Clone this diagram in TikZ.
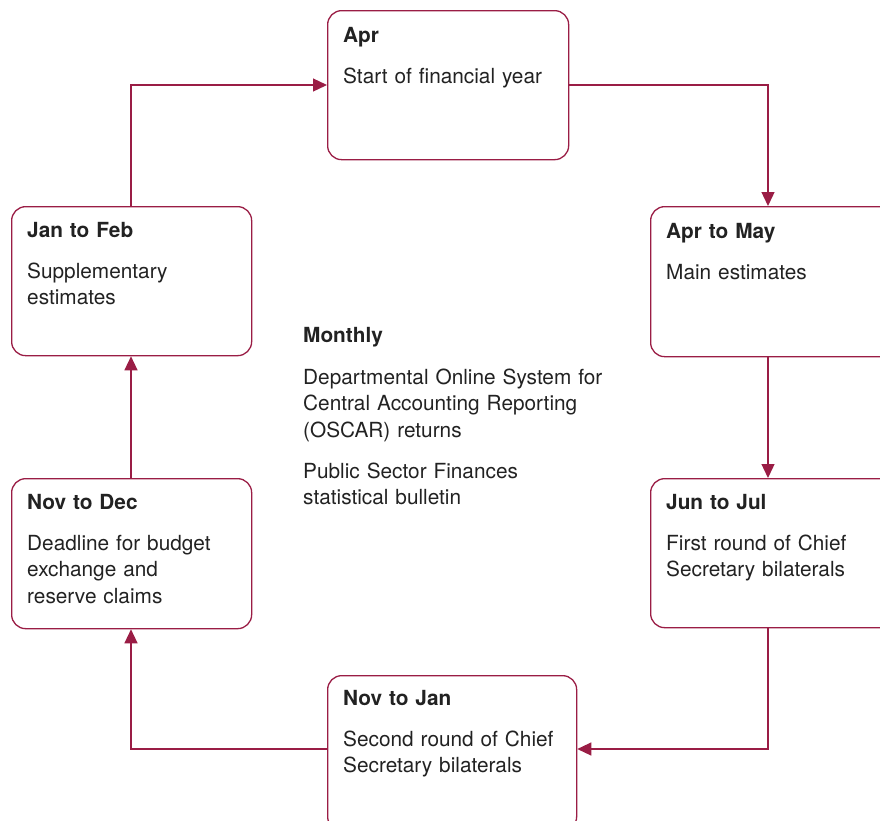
\documentclass[tikz,border=0pt]{standalone}
\usepackage{fontspec}
\setmainfont{TeX Gyre Heros}
\usetikzlibrary{arrows.meta}
\definecolor{crimson}{HTML}{9A1D45}
\definecolor{ink}{HTML}{222222}
\begin{document}
\begin{tikzpicture}[x=1pt,y=-1pt,
  stage/.style={draw=crimson, line width=1.3pt, rounded corners=14pt, fill=white,
    anchor=north west, inner sep=0pt},
  label/.style={anchor=base west, inner sep=0pt, text=ink, align=left,
    font=\fontsize{20.8}{26.5}\selectfont},
  flow/.style={draw=crimson, line width=1.3pt,
    -{Triangle[length=14pt,width=13pt]}}
]
\useasboundingbox (0,0) rectangle (880,820);
\clip (0,0) rectangle (880,820);

% stage boxes
\node[stage, minimum width=241pt, minimum height=149pt] (apr)   at (327,10)  {};
\node[stage, minimum width=245pt, minimum height=150pt] (aprmay) at (650,206) {};
\node[stage, minimum width=245pt, minimum height=149pt] (junjul) at (650,478) {};
\node[stage, minimum width=249pt, minimum height=155pt] (novjan) at (327,675) {};
\node[stage, minimum width=240pt, minimum height=150pt] (novdec) at (11,478)  {};
\node[stage, minimum width=240pt, minimum height=149pt] (janfeb) at (11,206)  {};

% texts
\node[label, text width=220pt] (aprT) at (343,42)
  {\textbf{Apr}\\[14.5pt]Start of financial year};
\node[label, text width=220pt] (aprmayT) at (666,238)
  {\textbf{Apr to May}\\[14.5pt]Main estimates};
\node[label, text width=220pt] (junjulT) at (666,509)
  {\textbf{Jun to Jul}\\[14.5pt]First round of Chief\\Secretary bilaterals};
\node[label, text width=230pt] (novjanT) at (343,705)
  {\textbf{Nov to Jan}\\[14.5pt]Second round of Chief\\Secretary bilaterals};
\node[label, text width=220pt] (novdecT) at (27,509)
  {\textbf{Nov to Dec}\\[14.5pt]Deadline for budget\\exchange and\\reserve claims};
\node[label, text width=220pt] (janfebT) at (27,237)
  {\textbf{Jan to Feb}\\[14.5pt]Supplementary\\estimates};
\node[label, text width=320pt] (monthly) at (303,342)
  {\textbf{Monthly}\\[15.5pt]Departmental Online System for\\Central Accounting Reporting\\(OSCAR) returns\\[14.5pt]Public Sector Finances\\statistical bulletin};

% cycle connectors
\coordinate (c1) at (131,85);
\coordinate (c2) at (768,85);
\coordinate (c3) at (768,749);
\coordinate (c4) at (131,749);
\draw[flow] (janfeb.north -| c1) |- (apr.west |- c1);
\draw[flow] (apr.east |- c2) -| (aprmay.north -| c2);
\draw[flow] (aprmay.south -| c2) -- (junjul.north -| c2);
\draw[flow] (junjul.south -| c3) |- (novjan.east |- c3);
\draw[flow] (novjan.west |- c4) -| (novdec.south -| c4);
\draw[flow] (novdec.north -| c4) -- (janfeb.south -| c4);
\end{tikzpicture}
\end{document}
